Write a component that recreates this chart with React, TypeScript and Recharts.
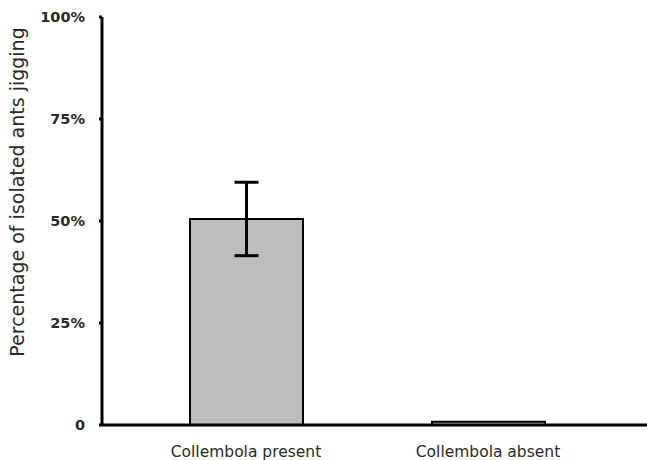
import { BarChart, Bar, XAxis, YAxis, ErrorBar, Label } from 'recharts';

const categories = ['Collembola present', 'Collembola absent'];
const jigging = [50.5, 0.8];
const errors = [9, 0];
const yTicks = [0, 25, 50, 75, 100];

const data = categories.map((name, i) => ({
  name,
  value: jigging[i],
  err: errors[i],
}));

const font = '"DejaVu Sans", Verdana, sans-serif';

export default function App() {
  return (
    <div style={{ position: 'absolute', left: 0, top: 0, background: '#fff' }}>
      <BarChart
        width={647}
        height={460}
        data={data}
        margin={{ top: 17, right: 0, bottom: 0, left: 0 }}
        barCategoryGap={0}
      >
        <XAxis
          dataKey="name"
          height={35}
          padding={{ left: 23, right: 38 }}
          axisLine={{ stroke: '#000', strokeWidth: 3 }}
          tickLine={false}
          tickMargin={15}
          tick={{ fontSize: 15.5, fill: '#2a2a2a', fontFamily: font }}
        />
        <YAxis
          width={102}
          domain={[0, 100]}
          ticks={yTicks}
          interval={0}
          tickFormatter={(v: number) => (v === 0 ? '0' : `${v}%`)}
          axisLine={{ stroke: '#000', strokeWidth: 3 }}
          tickLine={{ stroke: '#000', strokeWidth: 3 }}
          tickSize={3}
          tickMargin={14}
          tick={{ fontSize: 14.5, fontWeight: 'bold', fill: '#2a2a2a', fontFamily: font }}
        >
          <Label
            value="Percentage of isolated ants jigging"
            angle={-90}
            position="insideLeft"
            offset={17}
            dy={-29}
            style={{ fontSize: 19, fill: '#2a2a2a', fontFamily: font, textAnchor: 'middle' }}
          />
        </YAxis>
        <Bar
          dataKey="value"
          fill="#bdbdbd"
          stroke="#000"
          strokeWidth={2}
          barSize={113}
          isAnimationActive={false}
        >
          <ErrorBar dataKey="err" stroke="#000" strokeWidth={3} width={12} isAnimationActive={false} />
        </Bar>
      </BarChart>
    </div>
  );
}
